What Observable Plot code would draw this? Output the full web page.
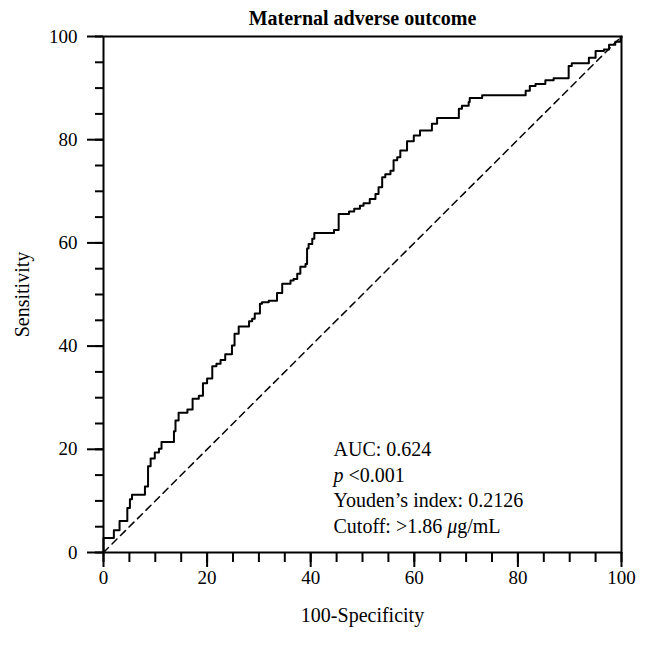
<!DOCTYPE html>
<html><head><meta charset="utf-8">
<script src="https://cdn.jsdelivr.net/npm/d3@7"></script>
<script src="https://cdn.jsdelivr.net/npm/@observablehq/plot@0.6"></script>
<style>body{margin:0;background:#fff}</style>
</head><body><div id="chart"></div>
<script>
// ROC curve vertices (100-Specificity, Sensitivity)
const fpr = [0,0,2.0,3.1,4.6,5.1,5.5,8.0,8.6,9.1,9.9,10.7,11.2,13.6,13.9,14.5,16.2,17.2,18.4,19.2,20.0,21.0,21.8,22.6,23.5,24.8,25.3,26.1,28.1,28.7,29.2,30.2,30.6,31.9,33.5,34.5,36.1,36.7,37.4,38.0,39.0,39.3,39.6,40.3,40.7,44.5,45.4,47.4,48.4,49.5,50.2,51.4,52.5,53.1,53.8,54.4,55.4,56.0,56.7,57.3,58.6,59.9,61.1,63.4,64.4,68.6,69.2,70.5,70.7,73.1,81.5,82.3,83.4,85.3,86.9,89.8,90.4,93.7,95.0,96.6,97.6,98.8,99.8,100];
const tpr = [0,2.8,4.3,6.1,8.6,10.3,11.2,12.8,16.7,18.2,19.4,20.1,21.4,23.5,25.6,27.1,27.7,29.8,30.4,32.8,33.7,36.1,36.6,37.3,38.4,40.1,42.4,43.8,44.8,45.3,46.3,48.2,48.5,48.8,50.3,52.1,52.7,53.0,54.0,55.4,55.9,58.9,59.8,60.8,61.9,62.5,65.6,66.1,66.6,67.2,67.7,68.5,69.5,70.8,72.7,73.3,74.0,76.0,76.6,77.9,79.7,80.8,81.8,83.1,84.2,86.0,86.6,87.3,88.1,88.6,89.5,90.4,90.8,91.5,91.9,94.3,94.8,95.9,97.2,97.5,98.4,99.0,99.8,100];
const diagonal = [0, 100];
const majorTicks = [0, 20, 40, 60, 80, 100];
const minorTicks = [0,5,10,15,20,25,30,35,40,45,50,55,60,65,70,75,80,85,90,95,100];
const title = "Maternal adverse outcome";
const xLabel = "100-Specificity";
const yLabel = "Sensitivity";
const notes = ["AUC: 0.624", "p <0.001", "Youden’s index: 0.2126", "Cutoff: >1.86 μg/mL"];

const roc = fpr.map((x, i) => ({x, y: tpr[i]}));
const diag = diagonal.map(v => ({x: v, y: v}));
const font = "'Liberation Serif', 'Times New Roman', serif";

const plot = Plot.plot({
  width: 648, height: 645,
  marginLeft: 103, marginRight: 27, marginTop: 36, marginBottom: 93,
  x: {domain: [0, 100], label: null},
  y: {domain: [0, 100], label: null},
  style: {fontFamily: font, fontSize: "19px", color: "#000", background: "#fff"},
  marks: [
    Plot.axisX(minorTicks, {tickSize: 10, tickFormat: () => "", strokeWidth: 2, label: null}),
    Plot.axisX(majorTicks, {tickSize: 15, tickPadding: 3, strokeWidth: 2, label: null, fontSize: 19}),
    Plot.axisY(minorTicks, {tickSize: 8, tickFormat: () => "", strokeWidth: 2, label: null}),
    Plot.axisY(majorTicks, {tickSize: 16, tickPadding: 10, strokeWidth: 2, label: null, fontSize: 19}),
    Plot.line(diag, {x: "x", y: "y", stroke: "#000", strokeWidth: 1.5, strokeDasharray: "7,5"}),
    Plot.line(roc, {x: "x", y: "y", curve: "step-after", stroke: "#000", strokeWidth: 2}),
    Plot.frame({stroke: "#000", strokeWidth: 2}),
    Plot.text([notes.join("\n")], {x: 44.4, y: 22.2, text: d => d, textAnchor: "start", lineAnchor: "top", lineHeight: 1.28, fontSize: 20, fill: "#000"}),
    Plot.text([title], {text: d => d, frameAnchor: "top", lineAnchor: "middle", textAnchor: "middle", dy: -18, fontWeight: "bold", fontSize: 20, fill: "#000"}),
    Plot.text([xLabel], {text: d => d, frameAnchor: "bottom", lineAnchor: "middle", textAnchor: "middle", dy: 63, fontSize: 20, fill: "#000"}),
    Plot.text([yLabel], {text: d => d, frameAnchor: "left", lineAnchor: "middle", textAnchor: "middle", dx: -81, rotate: -90, fontSize: 20, fill: "#000"})
  ]
});
document.getElementById("chart").appendChild(plot);

// mixed italic styling for annotation lines
const SVGNS = "http://www.w3.org/2000/svg";
function setParts(el, parts) {
  el.textContent = "";
  for (const [txt, ital] of parts) {
    if (ital) {
      const t = document.createElementNS(SVGNS, "tspan");
      t.setAttribute("font-style", "italic");
      t.textContent = txt;
      el.appendChild(t);
    } else {
      el.appendChild(document.createTextNode(txt));
    }
  }
}
plot.querySelectorAll("tspan, text").forEach(el => {
  if (el.children.length) return;
  const s = el.textContent;
  if (s === notes[1]) setParts(el, [["p", true], [" <0.001", false]]);
  else if (s === notes[3]) setParts(el, [["Cutoff: >1.86 ", false], ["μ", true], ["g/mL", false]]);
});
</script>
</body></html>
